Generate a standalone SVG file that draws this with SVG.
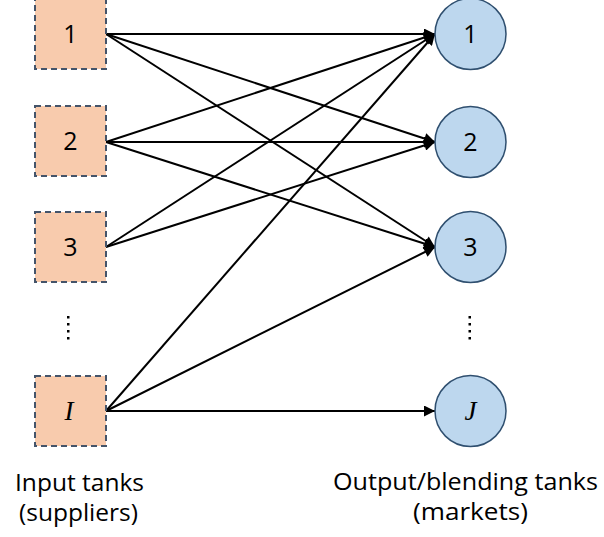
<svg xmlns="http://www.w3.org/2000/svg" width="604" height="537" viewBox="0 0 604 537">
<defs>
<marker id="arr" viewBox="0 0 10 10" refX="10" refY="5" markerWidth="6" markerHeight="5.5" orient="auto" markerUnits="strokeWidth">
<path d="M0,0 L10,5 L0,10 z" fill="#000"/>
</marker>
<style>
.sq{fill:#F8CBAD;stroke:#44546A;stroke-width:2;stroke-dasharray:6,4}
.ci{fill:#BDD7EE;stroke:#2F4F6F;stroke-width:1.5}
.num{font-family:"Open Sans","Noto Sans",sans-serif;font-size:25px;fill:#000;text-anchor:middle}
.it{font-family:"Liberation Serif",serif;font-style:italic;font-size:27px;fill:#000;text-anchor:middle}
.lbl{font-family:"Open Sans","Noto Sans",sans-serif;font-size:24px;fill:#000;text-anchor:middle}
.c{stroke:#000;stroke-width:2;fill:none;marker-end:url(#arr)}
.dot{fill:#000}
</style>
</defs>
<rect width="604" height="537" fill="#fff"/>
<g id="connectors">
<line class="c" x1="106" y1="34" x2="435" y2="34"/>
<line class="c" x1="106" y1="34" x2="435" y2="142"/>
<line class="c" x1="106" y1="34" x2="435" y2="247"/>
<line class="c" x1="106" y1="142" x2="435" y2="34"/>
<line class="c" x1="106" y1="142" x2="435" y2="142"/>
<line class="c" x1="106" y1="142" x2="435" y2="247"/>
<line class="c" x1="106" y1="247" x2="435" y2="34"/>
<line class="c" x1="106" y1="247" x2="435" y2="142"/>
<line class="c" x1="106" y1="411" x2="435" y2="34"/>
<line class="c" x1="106" y1="411" x2="435" y2="247"/>
<line class="c" x1="106" y1="411" x2="435" y2="411"/>
</g>
<g id="in1"><rect class="sq" x="35" y="-1" width="71" height="70"/><text class="num" x="70.5" y="43">1</text></g>
<g id="in2"><rect class="sq" x="35" y="106" width="71" height="70"/><text class="num" x="70.5" y="150">2</text></g>
<g id="in3"><rect class="sq" x="35" y="212" width="71" height="70"/><text class="num" x="70.5" y="256">3</text></g>
<g id="inI"><rect class="sq" x="35" y="376" width="71" height="70"/><text class="it" x="69" y="420">I</text></g>
<g id="dotsL"><rect class="dot" x="67" y="316" width="2.5" height="2.5"/><rect class="dot" x="67" y="323" width="2.5" height="2.5"/><rect class="dot" x="67" y="330" width="2.5" height="2.5"/><rect class="dot" x="67" y="337" width="2.5" height="2.5"/></g>
<g id="out1"><circle class="ci" cx="470.5" cy="34" r="35.5"/><text class="num" x="470.5" y="43">1</text></g>
<g id="out2"><circle class="ci" cx="470.5" cy="142" r="35.5"/><text class="num" x="470.5" y="151">2</text></g>
<g id="out3"><circle class="ci" cx="470.5" cy="247" r="35.5"/><text class="num" x="470.5" y="256">3</text></g>
<g id="outJ"><circle class="ci" cx="470.5" cy="411" r="35.5"/><text class="it" x="470.5" y="420">J</text></g>
<g id="dotsR"><rect class="dot" x="468.5" y="316" width="2.5" height="2.5"/><rect class="dot" x="468.5" y="323" width="2.5" height="2.5"/><rect class="dot" x="468.5" y="330" width="2.5" height="2.5"/><rect class="dot" x="468.5" y="337" width="2.5" height="2.5"/></g>
<g id="labelIn"><text class="lbl" x="79.5" y="491" textLength="129" lengthAdjust="spacingAndGlyphs">Input tanks</text><text class="lbl" x="78.5" y="521" textLength="119" lengthAdjust="spacingAndGlyphs">(suppliers)</text></g>
<g id="labelOut"><text class="lbl" x="465.5" y="490" textLength="265" lengthAdjust="spacingAndGlyphs">Output/blending tanks</text><text class="lbl" x="470.5" y="520" textLength="115" lengthAdjust="spacingAndGlyphs">(markets)</text></g>
</svg>
